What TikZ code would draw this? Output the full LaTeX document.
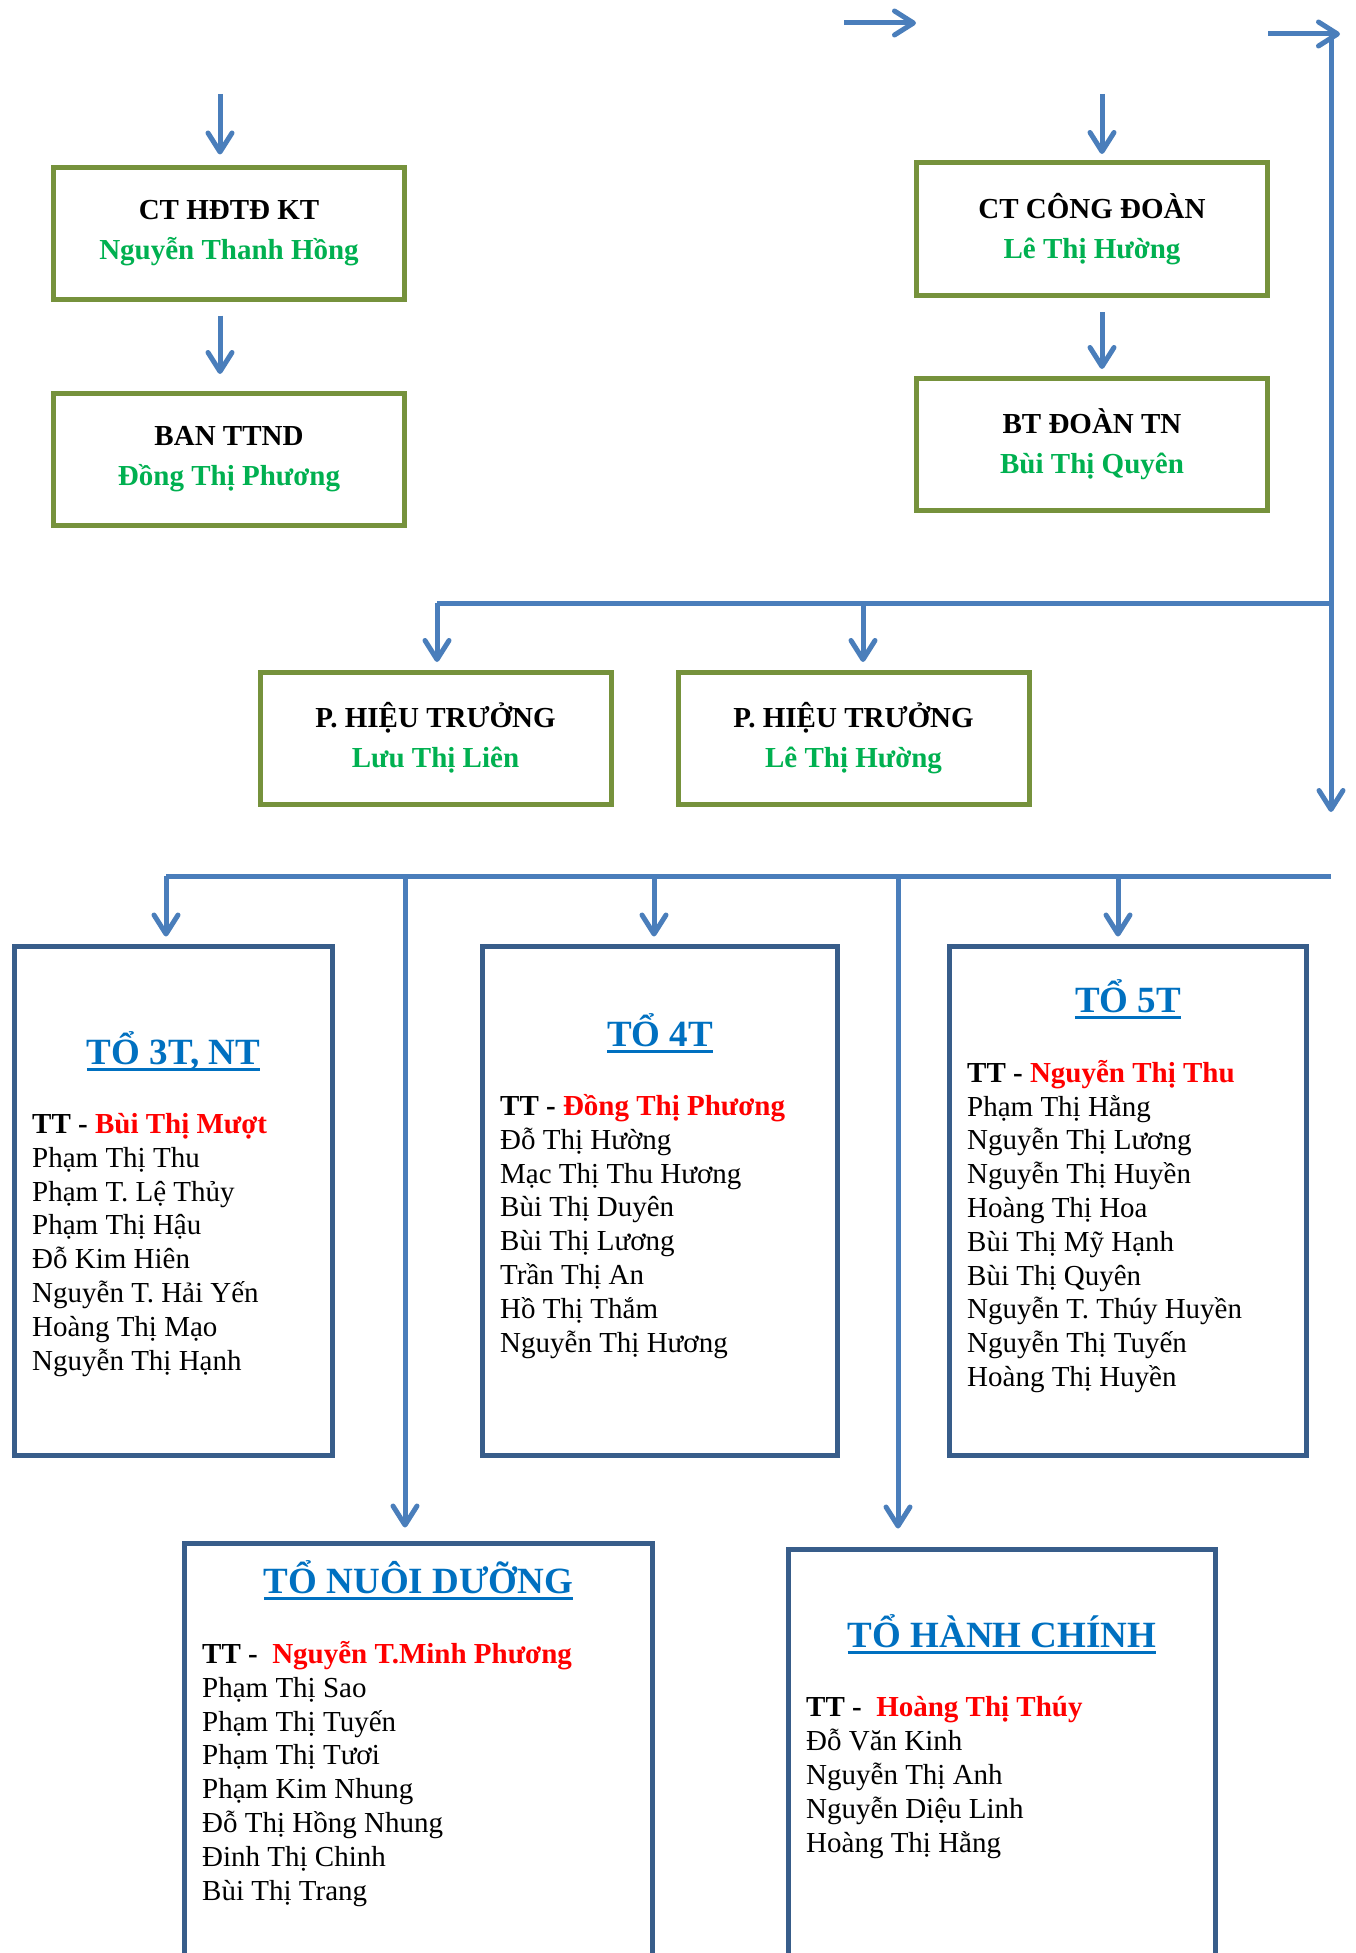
\documentclass[tikz,border=0pt]{standalone}
\usepackage{fontspec}
\setmainfont{Liberation Serif}
\usetikzlibrary{arrows.meta}
\definecolor{lineblue}{HTML}{4A7EBB}
\definecolor{boxblue}{HTML}{385D8A}
\definecolor{olivebox}{HTML}{76923C}
\definecolor{namegreen}{HTML}{00B050}
\definecolor{titleblue}{HTML}{0070C0}
\newcommand{\gname}[1]{\textcolor{namegreen}{#1}}
\newcommand{\ttname}[1]{\textcolor{red}{#1}}
\tikzset{lead box/.style={draw=olivebox,line width=5pt,minimum width=351pt,minimum height=132pt,inner sep=0pt,align=center,font=\fontsize{29}{40}\selectfont\bfseries},
         team box/.style={draw=boxblue,line width=5pt,inner sep=0pt},
         team title/.style={anchor=base,inner sep=0pt,text=titleblue,font=\fontsize{37}{44}\selectfont\bfseries},
         title line/.style={draw=titleblue,line width=3pt},
         member list/.style={anchor=base west,inner sep=0pt,align=left,font=\fontsize{29}{33.8}\selectfont},
         link/.style={draw=lineblue,line width=5pt},
         arrow link/.style={link,-{Straight Barb[length=19pt,width=24pt,round]}}
}

\begin{document}
\begin{tikzpicture}[x=1pt,y=-1pt]
\useasboundingbox (0,0) rectangle (1355,1953);
\clip (0,0) rectangle (1355,1953);

% leaders
\node[lead box] (ctkt) at (229,233.5) {CT HĐTĐ KT\\ \gname{Nguyễn Thanh Hồng}};
\node[lead box] (ttnd) at (229,459) {BAN TTND\\ \gname{Đồng Thị Phương}};
\node[lead box] (cd) at (1092,229) {CT CÔNG ĐOÀN\\ \gname{Lê Thị Hường}};
\node[lead box] (dtn) at (1092,444) {BT ĐOÀN TN\\ \gname{Bùi Thị Quyên}};
\node[lead box] (phta) at (435.5,738) {P. HIỆU TRƯỞNG\\ \gname{Lưu Thị Liên}};
\node[lead box] (phtb) at (853.5,738) {P. HIỆU TRƯỞNG\\ \gname{Lê Thị Hường}};

% teams
\node[team box,minimum width=318pt,minimum height=509pt] (b3t) at (173.5,1201) {};
\node[team box,minimum width=355pt,minimum height=509pt] (b4t) at (660,1201) {};
\node[team box,minimum width=357pt,minimum height=509pt] (b5t) at (1128,1201) {};
\node[team box,minimum width=468pt,minimum height=464pt] (bnd) at (418.5,1775.5) {};
\node[team box,minimum width=427pt,minimum height=458pt] (bhc) at (1002,1778.5) {};

\node[team title] (t3t) at ([yshift=-120pt]b3t.north) {TỔ 3T, NT};
\node[team title] (t4t) at ([yshift=-102pt]b4t.north) {TỔ 4T};
\node[team title] (t5t) at ([yshift=-68pt]b5t.north) {TỔ 5T};
\node[team title] (tnd) at ([yshift=-52pt]bnd.north) {TỔ NUÔI DƯỠNG};
\node[team title] (thc) at ([yshift=-100pt]bhc.north) {TỔ HÀNH CHÍNH};
\foreach \t in {t3t,t4t,t5t,tnd,thc}
  \draw[title line] ([yshift=-5.5pt]\t.base west) -- ([yshift=-5.5pt]\t.base east);

% lists sit on the baseline of their last line
\node[member list] (l3t) at ([xshift=20pt,yshift=-426pt]b3t.north west)
  {\textbf{TT - \ttname{Bùi Thị Mượt}}\\ Phạm Thị Thu\\ Phạm T. Lệ Thủy\\ Phạm Thị Hậu\\ Đỗ Kim Hiên\\ Nguyễn T. Hải Yến\\ Hoàng Thị Mạo\\ Nguyễn Thị Hạnh};
\node[member list] (l4t) at ([xshift=20pt,yshift=-408pt]b4t.north west)
  {\textbf{TT - \ttname{Đồng Thị Phương}}\\ Đỗ Thị Hường\\ Mạc Thị Thu Hương\\ Bùi Thị Duyên\\ Bùi Thị Lương\\ Trần Thị An\\ Hồ Thị Thắm\\ Nguyễn Thị Hương};
\node[member list] (l5t) at ([xshift=20pt,yshift=-442.5pt]b5t.north west)
  {\textbf{TT - \ttname{Nguyễn Thị Thu}}\\ Phạm Thị Hằng\\ Nguyễn Thị Lương\\ Nguyễn Thị Huyền\\ Hoàng Thị Hoa\\ Bùi Thị Mỹ Hạnh\\ Bùi Thị Quyên\\ Nguyễn T. Thúy Huyền\\ Nguyễn Thị Tuyến\\ Hoàng Thị Huyền};
\node[member list] (lnd) at ([xshift=20pt,yshift=-359pt]bnd.north west)
  {\textbf{TT -\ \ \ttname{Nguyễn T.Minh Phương}}\\ Phạm Thị Sao\\ Phạm Thị Tuyến\\ Phạm Thị Tươi\\ Phạm Kim Nhung\\ Đỗ Thị Hồng Nhung\\ Đinh Thị Chinh\\ Bùi Thị Trang};
\node[member list] (lhc) at ([xshift=20pt,yshift=-305pt]bhc.north west)
  {\textbf{TT -\ \ \ttname{Hoàng Thị Thúy}}\\ Đỗ Văn Kinh\\ Nguyễn Thị Anh\\ Nguyễn Diệu Linh\\ Hoàng Thị Hằng};

% connectors
\coordinate (ina) at (220,94);
\coordinate (inc) at (1102,94);
\coordinate (e1) at (844,23);
\coordinate (e2) at (916,23);
\coordinate (f1) at (1268,34);
\coordinate (f2) at (1340,34);
\coordinate (vtop) at (1331,34);
\coordinate (vend) at (1331,812);
\coordinate (ha) at (437,603);
\coordinate (hb) at (863,603);
\coordinate (hr) at (1331,603);
\coordinate (ka) at (166,876);
\coordinate (kb) at (405,876);
\coordinate (kc) at (654,876);
\coordinate (kd) at (898,876);
\coordinate (ke) at (1118,876);
\coordinate (kr) at (1331,876);

\draw[arrow link] (e1) -- (e2);
\draw[arrow link] (f1) -- (f2);
\draw[arrow link] (vtop) -- (vend);
\draw[arrow link,shorten >=10.5pt] (ina) -- (ina |- ctkt.north);
\draw[arrow link,shorten <=13.5pt,shorten >=16.5pt] (ina |- ctkt.south) -- (ina |- ttnd.north);
\draw[arrow link,shorten >=6.5pt] (inc) -- (inc |- cd.north);
\draw[arrow link,shorten <=14.5pt,shorten >=6.5pt] (inc |- cd.south) -- (inc |- dtn.north);

\draw[link] (ha) -- (hr);
\draw[arrow link,shorten >=7.5pt] (ha) -- (ha |- phta.north);
\draw[arrow link,shorten >=7.5pt] (hb) -- (hb |- phtb.north);

\draw[link] (ka) -- (kr);
\draw[arrow link,shorten >=7.5pt] (ka) -- (ka |- b3t.north);
\draw[arrow link,shorten >=7.5pt] (kc) -- (kc |- b4t.north);
\draw[arrow link,shorten >=7.5pt] (ke) -- (ke |- b5t.north);
\draw[arrow link,shorten >=13.5pt] (kb) -- (kb |- bnd.north);
\draw[arrow link,shorten >=18.5pt] (kd) -- (kd |- bhc.north);
\end{tikzpicture}
\end{document}
